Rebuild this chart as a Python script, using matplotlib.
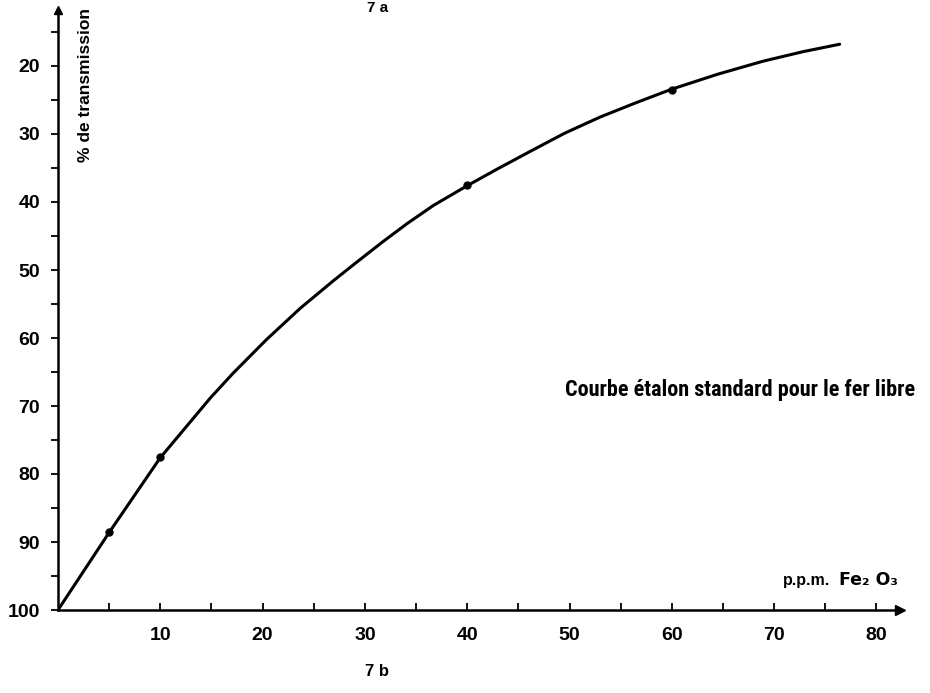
import matplotlib.pyplot as plt

# courbe (ppm Fe2O3, % de transmission)
curve_ppm = [0, 5, 10, 14.9, 17.1, 20.4, 23.7, 26.9, 28.9, 31.7, 34.1, 36.7, 40,
             43.0, 46.1, 49.5, 53, 56.5, 60, 64.5, 68.9, 72.8, 76.4]
curve_trans = [100, 88.6, 77.6, 68.8, 65.2, 60.2, 55.6, 51.6, 49.2, 45.9, 43.2, 40.5, 37.6,
               35.1, 32.6, 29.9, 27.5, 25.4, 23.4, 21.2, 19.3, 17.9, 16.8]

# points de mesure
pts_ppm = [5, 10, 40, 60]
pts_trans = [88.5, 77.5, 37.5, 23.5]

x_labels = [10, 20, 30, 40, 50, 60, 70, 80]
y_labels = [20, 30, 40, 50, 60, 70, 80, 90, 100]

plt.rcParams['font.family'] = ['Liberation Sans', 'DejaVu Sans']

fig = plt.figure(figsize=(9.3, 6.93), dpi=100)
ax = fig.add_axes([58 / 930, 1 - 610 / 693, (900 - 58) / 930, 600 / 693])

ax.plot(curve_ppm, curve_trans, color='black', lw=2.2, solid_capstyle='round',
        solid_joinstyle='round')
ax.plot(pts_ppm, pts_trans, 'o', color='black', ms=5)

ax.set_xlim(0, 82.3)
ax.set_ylim(100, 100 - 600 / 6.8)

for s in ['top', 'right']:
    ax.spines[s].set_visible(False)
for s in ['left', 'bottom']:
    ax.spines[s].set_linewidth(1.8)

# fleches des axes
ax.plot(1, 0, '>k', ms=7, transform=ax.transAxes, clip_on=False)
ax.plot(0, 1, '^k', ms=6, transform=ax.transAxes, clip_on=False)

ax.set_xticks(range(5, 85, 5))
ax.set_xticklabels([str(v) if v in x_labels else '' for v in range(5, 85, 5)])
ax.tick_params(axis='x', direction='in', length=5, width=1.3, pad=12,
               labelsize=14)
ax.set_yticks(y_labels)
ax.set_yticks(range(15, 100, 5), minor=True)
ax.tick_params(axis='y', which='both', direction='out', length=5, width=1.3, pad=8,
               labelsize=14)
for lab in ax.get_xticklabels() + ax.get_yticklabels():
    lab.set_fontweight('bold')

fig.text(85 / 930, 1 - 8 / 693, '% de transmission', rotation=90, ha='center', va='top',
         fontsize=12.5, fontweight='bold')
fig.text(378 / 930, 1 - 8 / 693, '7 a', ha='center', va='center', fontsize=11, fontweight='bold')
fig.text(377 / 930, 1 - 672 / 693, '7 b', ha='center', va='center', fontsize=12, fontweight='bold')
fig.text(830 / 930, 1 - 581 / 693, 'p.p.m.', ha='right', va='center', fontsize=11.5,
         fontweight='bold')
fig.text(898 / 930, 1 - 580 / 693, 'Fe₂ O₃', ha='right', va='center', fontsize=12.5,
         fontweight='bold', family=['DejaVu Sans'])
fig.text(915 / 930, 1 - 390 / 693, 'Courbe étalon standard pour le fer libre', ha='right',
         va='center', fontsize=16, fontweight='bold',
         family=['Roboto Condensed', 'DejaVu Sans'])

fig.savefig('out.png', dpi=100)
